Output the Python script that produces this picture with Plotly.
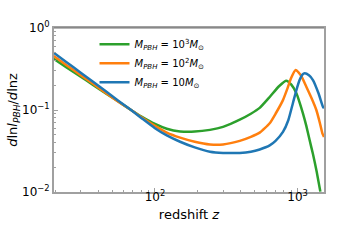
import plotly.graph_objects as go
import numpy as np

# data (redshift z, dln l_PBH / dln z)
z_g = [19.5, 24, 30, 37, 45, 55, 68, 81, 100, 121, 150, 190, 243, 300, 393, 470, 542, 637, 740, 833, 900, 980, 1030, 1089, 1150, 1213, 1280, 1352, 1443]
v_g = [0.42, 0.331, 0.256, 0.201, 0.160, 0.128, 0.100, 0.0825, 0.0676, 0.0591, 0.0548, 0.0545, 0.0572, 0.0622, 0.0761, 0.090, 0.106, 0.144, 0.195, 0.228, 0.205, 0.160, 0.125, 0.091, 0.064, 0.043, 0.029, 0.0186, 0.0101]

z_o = [19.5, 24, 30, 37, 45, 55, 68, 81, 100, 121, 150, 190, 243, 300, 393, 470, 542, 637, 700, 789, 850, 900, 968, 1010, 1060, 1150, 1250, 1352, 1430, 1490, 1530]
v_o = [0.455, 0.352, 0.268, 0.207, 0.162, 0.127, 0.100, 0.081, 0.064, 0.053, 0.046, 0.041, 0.038, 0.038, 0.042, 0.047, 0.053, 0.069, 0.090, 0.132, 0.185, 0.245, 0.307, 0.290, 0.260, 0.192, 0.140, 0.100, 0.070, 0.052, 0.047]

z_b = [19.5, 24, 30, 37, 45, 55, 68, 81, 100, 121, 150, 190, 243, 300, 393, 470, 542, 637, 700, 789, 860, 926, 980, 1032, 1080, 1120, 1200, 1280, 1400, 1503, 1530]
v_b = [0.50, 0.382, 0.287, 0.219, 0.170, 0.131, 0.100, 0.079, 0.060, 0.049, 0.041, 0.035, 0.031, 0.030, 0.030, 0.031, 0.033, 0.037, 0.042, 0.054, 0.075, 0.121, 0.175, 0.232, 0.270, 0.280, 0.265, 0.232, 0.160, 0.110, 0.105]

names = ["<i>M</i><sub><i>PBH</i></sub> = 10<sup>3</sup><i>M</i><sub>⊙</sub>",
         "<i>M</i><sub><i>PBH</i></sub> = 10<sup>2</sup><i>M</i><sub>⊙</sub>",
         "<i>M</i><sub><i>PBH</i></sub> = 10<i>M</i><sub>⊙</sub>"]
colors = ["#2ca02c", "#ff7f0e", "#1f77b4"]

xticks = [100, 1000]
xticktext = ["10<sup>2</sup>", "10<sup>3</sup>"]
yticks = [0.01, 0.1, 1]
yticktext = ["10<sup>−2</sup>", "10<sup>−1</sup>", "10<sup>0</sup>"]

xminor = [20, 30, 40, 50, 60, 70, 80, 90, 200, 300, 400, 500, 600, 700, 800, 900]
yminor = [m * 10.0 ** e for e in (-2, -1) for m in range(2, 10)]

fig = go.Figure()
for zs, vs, nm, c in zip([z_g, z_o, z_b], [v_g, v_o, v_b], names, colors):
    fig.add_trace(go.Scatter(x=zs, y=vs, mode="lines", name=nm,
                             line=dict(color=c, width=2.5, shape="spline", smoothing=0.5)))

axis_common = dict(type="log", showgrid=False, zeroline=False, showline=True,
                   linecolor="#a0a0a0", linewidth=1.8, mirror=True,
                   ticks="inside", ticklen=4, tickcolor="#a0a0a0",
                   tickfont=dict(family="DejaVu Sans", size=12, color="black"))

fig.update_xaxes(**axis_common, range=[np.log10(19.6), np.log10(1530)],
                 tickvals=xticks, ticktext=xticktext, ticklabelstandoff=-7,
                 minor=dict(ticks="inside", ticklen=2, tickcolor="#a0a0a0", tickvals=xminor),
                 title=dict(text="redshift <i>z</i>", font=dict(family="DejaVu Sans", size=13, color="black"),
                            standoff=7))
fig.update_yaxes(**axis_common, range=[-2, 0],
                 tickvals=yticks, ticktext=yticktext,
                 minor=dict(ticks="inside", ticklen=2, tickcolor="#a0a0a0", tickvals=yminor),
                 title=dict(text="<i>d</i>ln<i>l</i><sub><i>PBH</i></sub>/<i>d</i>lnz",
                            font=dict(family="DejaVu Sans", size=13, color="black"), standoff=0))

fig.add_shape(type="line", xref="paper", yref="paper", x0=0, x1=1, y0=1, y1=1,
              line=dict(color="#707070", width=1.2))

fig.update_layout(width=360, height=240, margin=dict(l=54, r=36, t=28, b=48),
                  plot_bgcolor="white", paper_bgcolor="white",
                  showlegend=True,
                  legend=dict(x=0.15, y=0.99, xanchor="left", yanchor="top",
                              bgcolor="rgba(0,0,0,0)", borderwidth=0,
                              font=dict(family="DejaVu Sans", size=10, color="black"),
                              tracegroupgap=0, itemwidth=30))

fig.write_html("out.html", config={"displayModeBar": False},
               post_script="document.body.style.margin='0';")
